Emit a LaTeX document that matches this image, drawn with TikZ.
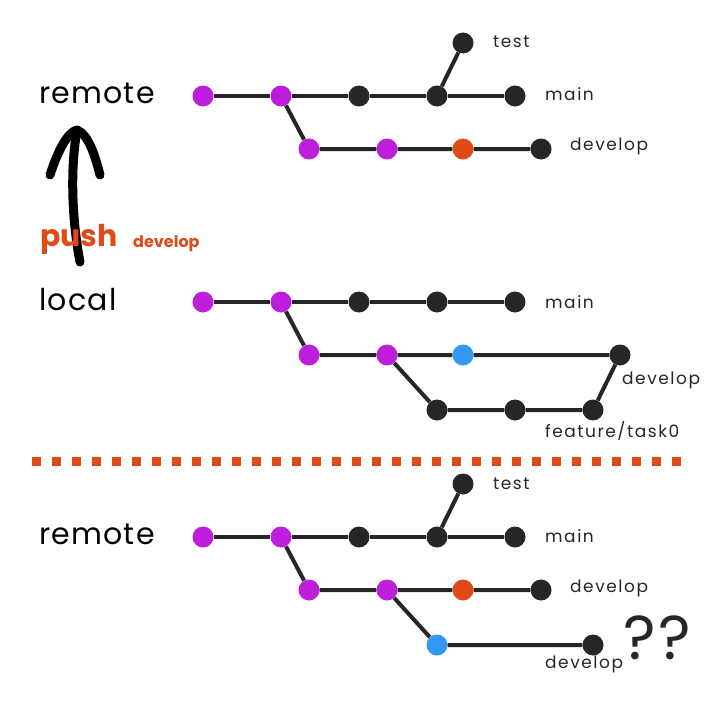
\documentclass[tikz,border=0pt]{standalone}
\usepackage{fontspec}
\setmainfont{Poppins}
\definecolor{cpurple}{HTML}{BE1EDB}
\definecolor{corange}{HTML}{E04A16}
\definecolor{cblue}{HTML}{3399F0}
\definecolor{cdark}{HTML}{262626}
\tikzset{
	commit/.style={circle,fill=#1,inner sep=0pt,minimum size=21pt},
	commit/.default=cdark,
	branch/.style={line width=4pt,cdark},
	lbl/.style={font=\fontsize{17}{17}\selectfont\addfontfeatures{LetterSpace=9},text=cdark,inner sep=0pt,anchor=west},
	side/.style={font=\fontsize{30}{30}\selectfont\addfontfeatures{LetterSpace=4},inner sep=0pt,anchor=west},
}

\begin{document}
\begin{tikzpicture}[x=1pt,y=-1pt]
			\useasboundingbox (0,0) rectangle (720,720);
			
			% remote (before)
			\node[side] (remA) at (39,93) {remote};
			\node[commit=cpurple] (r1) at (203,96) {};
			\node[commit=cpurple] (r2) at (281,96) {};
			\node[commit] (r3) at (359,96) {};
			\node[commit] (r4) at (437,96) {};
			\node[commit] (r5) at (515,96) {};
			\node[commit] (rt) at (463,43) {};
			\node[commit=cpurple] (rd1) at (309,149) {};
			\node[commit=cpurple] (rd2) at (387,149) {};
			\node[commit=corange] (rd3) at (463,149) {};
			\node[commit] (rd4) at (541,149) {};
			\draw[branch] (r1) -- (r2) -- (r3) -- (r4) -- (r5);
			\draw[branch] (r4) -- (rt);
			\draw[branch] (r2) -- (rd1) -- (rd2) -- (rd3) -- (rd4);
			\node[lbl] (rtL) at (493,42) {test};
			\node[lbl] (r5L) at (545,94) {main};
			\node[lbl] (rd4L) at (570,146) {develop};
			
			% push arrow
			\coordinate (pushFrom) at (80,262);
			\coordinate (pushTo) at (77,130);
			\draw[line width=9pt,line cap=round,line join=round] (pushFrom) .. controls (72,220) and (70,170) .. (pushTo);
			\draw[line width=9pt,line cap=round,line join=round] (50,175) .. controls (58,150) and (68,132) .. (pushTo) .. controls (88,134) and (95,155) .. (100,175);
			\node[inner sep=0pt,anchor=west,text=corange,font=\fontsize{30}{30}\selectfont\bfseries] (push) at (40,239) {push};
			\node[inner sep=0pt,anchor=west,text=corange,font=\fontsize{16}{16}\selectfont\bfseries] (pushB) at (133,244) {develop};
			
			% local
			\node[side] (loc) at (39,300) {local};
			\node[commit=cpurple] (l1) at (203,302) {};
			\node[commit=cpurple] (l2) at (281,302) {};
			\node[commit] (l3) at (359,302) {};
			\node[commit] (l4) at (437,302) {};
			\node[commit] (l5) at (515,302) {};
			\node[commit=cpurple] (ld1) at (309,355) {};
			\node[commit=cpurple] (ld2) at (387,355) {};
			\node[commit=cblue] (ld3) at (463,355) {};
			\node[commit] (ld4) at (620,355) {};
			\node[commit] (f1) at (437,410) {};
			\node[commit] (f2) at (515,410) {};
			\node[commit] (f3) at (593,410) {};
			\draw[branch] (l1) -- (l2) -- (l3) -- (l4) -- (l5);
			\draw[branch] (l2) -- (ld1) -- (ld2) -- (ld3) -- (ld4);
			\draw[branch] (ld2) -- (f1) -- (f2) -- (f3) -- (ld4);
			\node[lbl] (l5L) at (545,302) {main};
			\node[lbl] (ld4L) at (622,380) {develop};
			\node[lbl] (f3L) at (545,431) {feature/task0};
			
			% separator
			\coordinate (sepL) at (32,461);
			\coordinate (sepR) at (684,461);
			\draw[corange,line width=9pt,dash pattern=on 9pt off 11pt] (sepL) -- (sepR);
			
			% remote (after)
			\node[side] (remB) at (39,534) {remote};
			\node[commit=cpurple] (b1) at (203,537) {};
			\node[commit=cpurple] (b2) at (281,537) {};
			\node[commit] (b3) at (359,537) {};
			\node[commit] (b4) at (437,537) {};
			\node[commit] (b5) at (515,537) {};
			\node[commit] (bt) at (463,484) {};
			\node[commit=cpurple] (bd1) at (309,590) {};
			\node[commit=cpurple] (bd2) at (387,590) {};
			\node[commit=corange] (bd3) at (463,590) {};
			\node[commit] (bd4) at (541,590) {};
			\node[commit=cblue] (bx1) at (437,645) {};
			\node[commit] (bx2) at (593,645) {};
			\draw[branch] (b1) -- (b2) -- (b3) -- (b4) -- (b5);
			\draw[branch] (b4) -- (bt);
			\draw[branch] (b2) -- (bd1) -- (bd2) -- (bd3) -- (bd4);
			\draw[branch] (bd2) -- (bx1) -- (bx2);
			\node[lbl] (btL) at (493,484) {test};
			\node[lbl] (b5L) at (545,536) {main};
			\node[lbl] (bd4L) at (570,588) {develop};
			\node[lbl] (bx2L) at (545,664) {develop};
			\node[inner sep=0pt,anchor=west,text=cdark,font=\fontsize{62}{62}\selectfont\addfontfeatures{LetterSpace=4}] (qq) at (623,638) {??};
\end{tikzpicture}
\end{document}
